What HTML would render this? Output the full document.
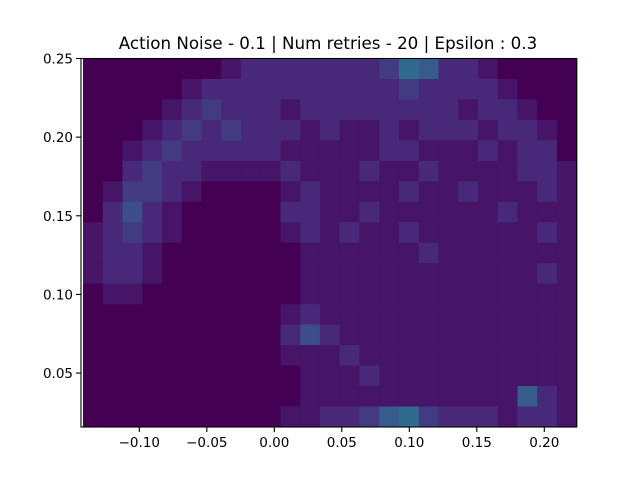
<!DOCTYPE html>
<html><head><meta charset="utf-8"><style>
body{margin:0;background:#fff;}
svg text{font-family:"DejaVu Sans","Liberation Sans",sans-serif;}
</style></head><body>
<svg id="chart" width="640" height="480" xmlns="http://www.w3.org/2000/svg">
<rect width="640" height="480" fill="#fff"/>
<text x="328" y="49" font-size="16.7" text-anchor="middle">Action Noise - 0.1 | Num retries - 20 | Epsilon : 0.3</text>
<g id="cells"></g>
<g id="axes"></g>
</svg>
<script>
const xTicks = [-0.10, -0.05, 0.00, 0.05, 0.10, 0.15, 0.20];
const xTickLabels = ["\u22120.10", "\u22120.05", "0.00", "0.05", "0.10", "0.15", "0.20"];
const yTicks = [0.05, 0.10, 0.15, 0.20, 0.25];
const yTickLabels = ["0.05", "0.10", "0.15", "0.20", "0.25"];
const xDomain = [-0.1432, 0.224];
const yDomain = [0.0157, 0.25];
const gridCols = 25;
const gridRows = 18;
const counts = [
[0,0,0,0,0,0,0,1,2,2,2,2,2,2,2,3,6,5,2,2,1,0,0,0,0],
[0,0,0,0,0,1,2,2,2,2,2,2,2,2,2,2,3,2,2,2,2,1,0,0,0],
[0,0,0,0,1,2,3,2,2,2,1,2,2,2,2,2,2,2,2,1,2,2,1,0,0],
[0,0,0,1,2,3,2,3,2,2,2,1,2,1,1,2,1,2,2,2,1,2,2,1,0],
[0,0,1,2,3,2,2,2,2,2,1,1,1,1,1,2,2,1,1,1,2,1,2,2,0],
[0,0,2,3,2,2,1,1,1,1,2,1,1,1,2,1,1,2,1,1,1,1,2,2,1],
[0,1,3,3,2,1,0,0,0,0,1,2,1,1,1,1,2,1,1,2,1,1,1,2,1],
[0,2,4,2,1,0,0,0,0,0,2,2,1,1,2,1,1,1,1,1,1,2,1,1,1],
[1,2,3,2,1,0,0,0,0,0,1,2,1,2,1,1,2,1,1,1,1,1,1,2,1],
[1,2,2,1,0,0,0,0,0,0,0,1,1,1,1,1,1,2,1,1,1,1,1,1,1],
[1,2,2,1,0,0,0,0,0,0,0,1,1,1,1,1,1,1,1,1,1,1,1,2,1],
[0,1,1,0,0,0,0,0,0,0,0,1,1,1,1,1,1,1,1,1,1,1,1,1,1],
[0,0,0,0,0,0,0,0,0,0,1,2,1,1,1,1,1,1,1,1,1,1,1,1,1],
[0,0,0,0,0,0,0,0,0,0,2,4,2,1,1,1,1,1,1,1,1,1,1,1,1],
[0,0,0,0,0,0,0,0,0,0,1,1,1,2,1,1,1,1,1,1,1,1,1,1,1],
[0,0,0,0,0,0,0,0,0,0,0,1,1,1,2,1,1,1,1,1,1,1,1,1,1],
[0,0,0,0,0,0,0,0,0,0,0,1,1,1,1,1,1,1,1,1,1,1,5,2,1],
[0,0,0,0,0,0,0,0,0,0,1,1,2,2,3,5,6,3,2,2,2,1,2,2,1]
];
const NS = "http://www.w3.org/2000/svg";
const L = 81, R = 576.7, T = 58.5, B = 427;
function sx(v){ return L + (v - xDomain[0]) / (xDomain[1] - xDomain[0]) * (R - L); }
function sy(v){ return B - (v - yDomain[0]) / (yDomain[1] - yDomain[0]) * (B - T); }
const vir = [[68,1,84],[72,40,120],[62,74,137],[49,104,142],[38,130,142],[31,158,137],[53,183,121],[109,205,89],[180,222,44],[253,231,37]];
function color(v){
  const t = Math.min(1, v * 0.058) * 9;
  const i = Math.min(8, Math.floor(t)), f = t - i;
  const a = vir[i], b = vir[i+1];
  return "rgb(" + a.map((c,k)=>Math.round(c + (b[k]-c)*f)).join(",") + ")";
}
const cells = document.getElementById("cells");
const x0 = 83;
const cw = (R - x0) / gridCols, ch = (B - T) / gridRows;
for (let r = 0; r < gridRows; r++) {
  for (let c = 0; c < gridCols; c++) {
    const rect = document.createElementNS(NS, "rect");
    rect.setAttribute("x", (x0 + c * cw).toFixed(2));
    rect.setAttribute("y", (T + r * ch).toFixed(2));
    rect.setAttribute("width", (cw + 0.5).toFixed(2));
    rect.setAttribute("height", (ch + 0.5).toFixed(2));
    rect.setAttribute("fill", color(counts[r][c]));
    
    
    cells.appendChild(rect);
  }
}
const axes = document.getElementById("axes");
const frame = document.createElementNS(NS, "rect");
frame.setAttribute("x", L); frame.setAttribute("y", T);
frame.setAttribute("width", R - L); frame.setAttribute("height", B - T);
frame.setAttribute("fill", "none"); frame.setAttribute("stroke", "#000"); frame.setAttribute("stroke-width", "1.1");


axes.appendChild(frame);
xTicks.forEach((v, i) => {
  const x = sx(v);
  const ln = document.createElementNS(NS, "line");
  ln.setAttribute("x1", x); ln.setAttribute("x2", x); ln.setAttribute("y1", B); ln.setAttribute("y2", B + 5);
  ln.setAttribute("stroke", "#000"); ln.setAttribute("stroke-width", "1.1");
  
  
  axes.appendChild(ln);
  const tx = document.createElementNS(NS, "text");
  tx.setAttribute("x", x); tx.setAttribute("y", B + 20); tx.setAttribute("font-size", "13.5"); tx.setAttribute("text-anchor", "middle");
  tx.textContent = xTickLabels[i];
  
  
  axes.appendChild(tx);
});
yTicks.forEach((v, i) => {
  const y = sy(v);
  const ln = document.createElementNS(NS, "line");
  ln.setAttribute("x1", L - 5); ln.setAttribute("x2", L); ln.setAttribute("y1", y); ln.setAttribute("y2", y);
  ln.setAttribute("stroke", "#000"); ln.setAttribute("stroke-width", "1.1");
  
  
  axes.appendChild(ln);
  const tx = document.createElementNS(NS, "text");
  tx.setAttribute("x", L - 8); tx.setAttribute("y", y + 5); tx.setAttribute("font-size", "13.5"); tx.setAttribute("text-anchor", "end");
  tx.textContent = yTickLabels[i];
  
  
  axes.appendChild(tx);
});
</script>
</body></html>
